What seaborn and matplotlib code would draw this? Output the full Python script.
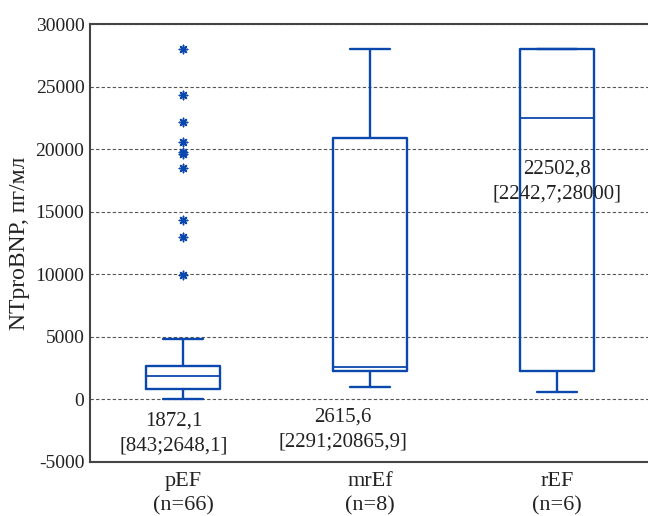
import matplotlib
matplotlib.use("Agg")
import matplotlib.pyplot as plt
import seaborn as sns
import pandas as pd

# ---- data ----
groups = ["pEF\n(n=66)", "mrEf\n(n=8)", "rEF\n(n=6)"]
whisker_low = [0, 1000, 560]
q1 = [843, 2291, 2242.7]
median = [1872.1, 2615.6, 22502.8]
q3 = [2648.1, 20865.9, 28000]
whisker_high = [4850, 28000, 28000]
pef_outliers = [28000, 24300, 22200, 20550, 19800, 19600, 18500, 14350, 12950, 9980]
annotations = ["1872,1\n[843;2648,1]", "2615,6\n[2291;20865,9]", "22502,8\n[2242,7;28000]"]
annot_x_offset = [-0.05, -0.145, 0.0]
annot_y = [-2700, -2400, 17450]
yticks = list(range(-5000, 30001, 5000))

sns.set_style("white")
plt.rcParams["font.family"] = ["Liberation Serif", "DejaVu Serif"]
plt.rcParams["axes.unicode_minus"] = False

blue = "#0b48ad"

fig = plt.figure(figsize=(6.48, 5.16), dpi=100)
ax = fig.add_axes([90 / 648, 1 - 462 / 516, 1 - 90 / 648, (462 - 24) / 516])

# outliers via seaborn on categorical axis
out_df = pd.DataFrame({"group": [groups[0]] * len(pef_outliers), "value": pef_outliers})
sns.stripplot(data=out_df, x="group", y="value", order=groups, jitter=False,
              marker=(8, 2, 0), size=6, color=blue, linewidth=1.1, edgecolor=blue, ax=ax, zorder=3)

stats = []
for i in range(len(groups)):
    stats.append(dict(label=groups[i], whislo=whisker_low[i], q1=q1[i], med=median[i],
                      q3=q3[i], whishi=whisker_high[i], fliers=[]))
ax.bxp(stats, positions=range(len(groups)), widths=0.4, showfliers=False,
       boxprops=dict(color=blue, linewidth=1.7),
       whiskerprops=dict(color=blue, linewidth=1.7),
       capprops=dict(color=blue, linewidth=1.7),
       medianprops=dict(color=blue, linewidth=1.3),
       capwidths=0.21, manage_ticks=False, zorder=2)

for i, txt in enumerate(annotations):
    ax.text(i + annot_x_offset[i], annot_y[i], txt, ha="center", va="center",
            fontsize=15, color="#222222", linespacing=1.38, zorder=4)

ax.set_xlim(-0.497, 2.487)
ax.set_ylim(-5000, 30000)
ax.set_yticks(yticks)
ax.set_yticklabels([str(v) for v in yticks])
ax.set_xticks(range(len(groups)))
ax.set_xticklabels(groups, fontsize=16, color="#222222", linespacing=1.38)
ax.tick_params(axis="y", labelsize=14, labelcolor="#222222", length=0, pad=4)
ax.tick_params(axis="x", direction="in", length=5, width=1, color="#444444", pad=7)
ax.set_xlabel("")
ax.set_ylabel("NTproBNP, пг/мл", fontsize=17, color="#222222", labelpad=4)

ax.grid(axis="y", linestyle=(0, (3, 2)), color="#555555", linewidth=0.8)
ax.grid(axis="x", visible=False)
ax.set_axisbelow(True)
for side in ["left", "bottom", "top"]:
    ax.spines[side].set_color("#444444")
    ax.spines[side].set_linewidth(1.5)
ax.spines["right"].set_visible(False)

fig.savefig("out.png", dpi=100)
